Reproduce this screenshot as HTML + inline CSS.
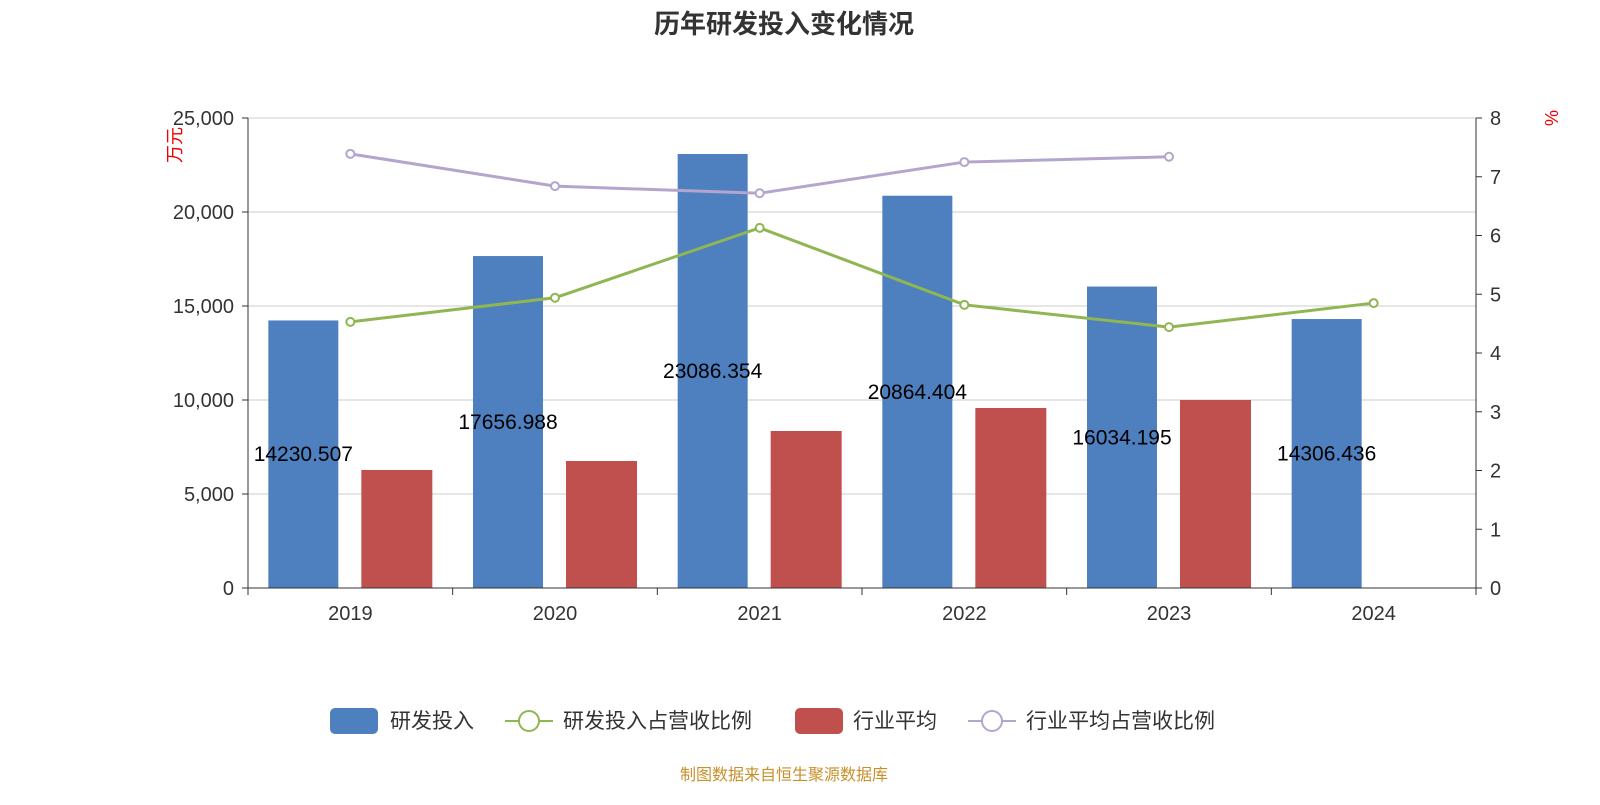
<!DOCTYPE html>
<html><head><meta charset="utf-8">
<style>
body{margin:0;background:#fff;}
svg text{font-family:"Liberation Sans","Noto Sans CJK SC",sans-serif;}
</style></head>
<body>
<svg id="chart" width="1600" height="800" xmlns="http://www.w3.org/2000/svg">
<text x="784" y="33" text-anchor="middle" font-size="26" font-weight="bold" fill="#333">历年研发投入变化情况</text>
<g id="grid"></g><g id="bars"></g><g id="lines"></g><g id="axes"></g><g id="labels"></g>
<text transform="translate(181,145) rotate(-90)" text-anchor="middle" font-size="18" fill="#e00">万元</text>
<text transform="translate(1558,118) rotate(-90)" text-anchor="middle" font-size="18" fill="#e00">%</text>
<g>
<g><rect x="330" y="708" width="48" height="26" rx="5" fill="#4e7fbe"/><text x="390" y="728" font-size="21" fill="#333">研发投入</text></g>
<g><line x1="505" y1="721" x2="553" y2="721" stroke="#8fb652" stroke-width="2"/><circle cx="529" cy="721" r="10" fill="#fff" stroke="#8fb652" stroke-width="2"/><text x="563" y="728" font-size="21" fill="#333">研发投入占营收比例</text></g>
<g><rect x="795" y="708" width="48" height="26" rx="5" fill="#c0504d"/><text x="853" y="728" font-size="21" fill="#333">行业平均</text></g>
<g><line x1="968" y1="721" x2="1016" y2="721" stroke="#b3a5cc" stroke-width="2"/><circle cx="992" cy="721" r="10" fill="#fff" stroke="#b3a5cc" stroke-width="2"/><text x="1026" y="728" font-size="21" fill="#333">行业平均占营收比例</text></g>
</g>
<text x="784" y="780" text-anchor="middle" font-size="16" fill="#c8902a">制图数据来自恒生聚源数据库</text>
</svg>
<script>
const categories=["2019","2020","2021","2022","2023","2024"];
const rdValues=[14230.507,17656.988,23086.354,20864.404,16034.195,14306.436];
const rdLabels=["14230.507","17656.988","23086.354","20864.404","16034.195","14306.436"];
const avgValues=[6277,6755,8351,9574,10000,null];
const rdRatio=[4.53,4.94,6.13,4.82,4.44,4.85];
const avgRatio=[7.39,6.84,6.72,7.25,7.34,null];
const leftTicks=[0,5000,10000,15000,20000,25000];
const leftTickLabels=["0","5,000","10,000","15,000","20,000","25,000"];
const rightTicks=[0,1,2,3,4,5,6,7,8];

const NS="http://www.w3.org/2000/svg";
const X0=248,X1=1476,Y0=588,Y1=118;
const bw=(X1-X0)/categories.length;
const xc=i=>X0+bw*(i+0.5);
const yL=v=>Y0-(v/25000)*(Y0-Y1);
const yR=v=>Y0-(v/8)*(Y0-Y1);
function mk(tag,attrs,parent,txt){const e=document.createElementNS(NS,tag);for(const k in attrs)e.setAttribute(k,attrs[k]);if(txt!==undefined)e.textContent=txt;document.getElementById(parent).appendChild(e);return e;}

leftTicks.forEach((t,i)=>{
  const g=mk('line',{x1:X0,x2:X1,y1:yL(t),y2:yL(t),stroke:'#ccc','stroke-width':1},'grid');
  
  
  const tl=mk('text',{x:X0-14,y:yL(t)+7,'text-anchor':'end','font-size':20,fill:'#333'},'axes',leftTickLabels[i]);
  
  
  mk('line',{x1:X0-6,x2:X0,y1:yL(t),y2:yL(t),stroke:'#333'},'axes');
});
rightTicks.forEach(t=>{
  const tl=mk('text',{x:X1+14,y:yR(t)+7,'font-size':20,fill:'#333'},'axes',String(t));
  
  
  mk('line',{x1:X1,x2:X1+6,y1:yR(t),y2:yR(t),stroke:'#333'},'axes');
});
mk('line',{x1:X0,x2:X0,y1:Y1,y2:Y0,stroke:'#333'},'axes');
mk('line',{x1:X1,x2:X1,y1:Y1,y2:Y0,stroke:'#333'},'axes');
mk('line',{x1:X0,x2:X1,y1:Y0,y2:Y0,stroke:'#333'},'axes');
for(let i=0;i<=categories.length;i++)mk('line',{x1:X0+bw*i,x2:X0+bw*i,y1:Y0,y2:Y0+7,stroke:'#333'},'axes');
categories.forEach((c,i)=>{
  const tl=mk('text',{x:xc(i),y:Y0+32,'text-anchor':'middle','font-size':20,fill:'#333'},'axes',c);
  
  
});
rdValues.forEach((v,i)=>{
  const cx=xc(i)-47;
  const r=mk('rect',{x:cx-35,y:yL(v),width:70,height:Y0-yL(v),fill:'#4e7fbe'},'bars');
  
  
  const t=mk('text',{x:cx,y:(yL(v)+Y0)/2+7,'text-anchor':'middle','font-size':21,fill:'#000'},'labels',rdLabels[i]);
  
  
});
avgValues.forEach((v,i)=>{
  if(v==null)return;
  const cx=xc(i)+46;
  const r=mk('rect',{x:cx-35,y:yL(v),width:71,height:Y0-yL(v),fill:'#c0504d'},'bars');
  
  
});
function line(vals,color,name){
  const pts=[];vals.forEach((v,i)=>{if(v!=null)pts.push([xc(i),yR(v)]);});
  const p=mk('polyline',{points:pts.map(p=>p.join(',')).join(' '),fill:'none',stroke:color,'stroke-width':3},'lines');
  
  
  pts.forEach(q=>{
    const c=mk('circle',{cx:q[0],cy:q[1],r:4,fill:'#fff',stroke:color,'stroke-width':2},'lines');
    
    
  });
}
line(rdRatio,'#8fb652','rd-ratio');
line(avgRatio,'#b3a5cc','avg-ratio');
</script>
</body></html>
